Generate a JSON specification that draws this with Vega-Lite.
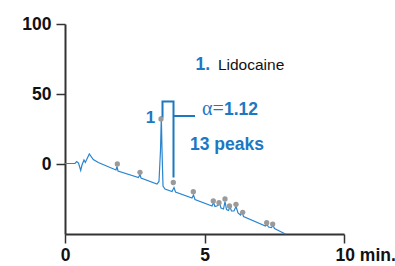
{
  "$schema": "https://vega.github.io/schema/vega-lite/v6.json",
  "width": 279,
  "height": 210,
  "autosize": {"type": "none"},
  "padding": {"left": 65, "top": 24, "right": 51, "bottom": 32},
  "background": "#ffffff",
  "config": {
    "view": {"stroke": null},
    "axis": {
      "grid": false,
      "domainColor": "#333333",
      "domainWidth": 2,
      "tickColor": "#333333",
      "tickWidth": 1.5,
      "tickSize": 9,
      "labelFont": "Liberation Sans",
      "labelFontWeight": "bold",
      "labelFontSize": 17.5,
      "labelColor": "#111111",
      "title": null
    }
  },
  "layer": [
    {
      "data": {"values": [
        {"t": 0, "v": 0.36}, {"t": 0.358, "v": 0.5}, {"t": 0.419, "v": 1.79}, {"t": 0.484, "v": 0.71},
        {"t": 0.563, "v": -4.64}, {"t": 0.609, "v": -0.71}, {"t": 0.681, "v": 2.86}, {"t": 0.728, "v": 1.07},
        {"t": 0.871, "v": 7.14}, {"t": 1.014, "v": 3.21}, {"t": 1.194, "v": 1.07}, {"t": 1.828, "v": -4.29},
        {"t": 1.864, "v": -1.79}, {"t": 1.9, "v": -5.0}, {"t": 2.634, "v": -9.64}, {"t": 2.688, "v": -7.5},
        {"t": 2.724, "v": -10.0}, {"t": 3.297, "v": -14.29}, {"t": 3.369, "v": -12.5}, {"t": 3.423, "v": 10.0},
        {"t": 3.452, "v": 34.29}, {"t": 3.477, "v": 10.0}, {"t": 3.513, "v": -15.71}, {"t": 3.584, "v": -17.86},
        {"t": 3.835, "v": -19.64}, {"t": 3.907, "v": -16.79}, {"t": 3.961, "v": -20.0}, {"t": 4.552, "v": -24.29},
        {"t": 4.606, "v": -22.14}, {"t": 4.659, "v": -25.36}, {"t": 5.269, "v": -30.0}, {"t": 5.323, "v": -27.5},
        {"t": 5.376, "v": -30.36}, {"t": 5.484, "v": -29.64}, {"t": 5.538, "v": -27.86}, {"t": 5.591, "v": -31.43},
        {"t": 5.681, "v": -32.14}, {"t": 5.735, "v": -26.79}, {"t": 5.789, "v": -32.5}, {"t": 5.86, "v": -33.21},
        {"t": 5.914, "v": -30.71}, {"t": 5.968, "v": -33.57}, {"t": 6.057, "v": -33.57}, {"t": 6.129, "v": -30.36},
        {"t": 6.201, "v": -35.0}, {"t": 6.29, "v": -36.43}, {"t": 6.344, "v": -33.93}, {"t": 6.398, "v": -37.5},
        {"t": 7.186, "v": -44.29}, {"t": 7.24, "v": -43.21}, {"t": 7.294, "v": -45.0}, {"t": 7.401, "v": -45.36},
        {"t": 7.455, "v": -43.93}, {"t": 7.509, "v": -46.07}, {"t": 7.9, "v": -50.0}
      ]},
      "mark": {"type": "line", "color": "#2a85cf", "strokeWidth": 1.2},
      "encoding": {
        "x": {"field": "t", "type": "quantitative", "scale": {"domain": [0, 10], "nice": false, "zero": false},
          "axis": {"values": [0, 5, 10], "labelPadding": 3,
            "labelExpr": "datum.value == 10 ? '10 min.' : datum.label",
            "labelAlign": {"expr": "datum.value == 10 ? 'left' : 'center'"},
            "labelOffset": {"expr": "datum.value == 10 ? -9 : 0"}}},
        "y": {"field": "v", "type": "quantitative", "scale": {"domain": [-50, 100], "nice": false, "zero": false},
          "axis": {"values": [0, 50, 100], "tickSize": 9, "labelPadding": 5}},
        "order": {"field": "t", "type": "quantitative"}
      }
    },
    {
      "data": {"values": [
        {"seg": "a", "k": 1, "t": 3.495, "v": 33.0},
        {"seg": "a", "k": 2, "t": 3.495, "v": 44.6},
        {"seg": "a", "k": 3, "t": 3.889, "v": 44.6},
        {"seg": "a", "k": 4, "t": 3.889, "v": -9.6},
        {"seg": "b", "k": 1, "t": 3.889, "v": 34.3},
        {"seg": "b", "k": 2, "t": 4.66, "v": 34.3}
      ]},
      "mark": {"type": "line", "color": "#1b78c2", "strokeWidth": 2, "strokeCap": "butt", "strokeJoin": "miter"},
      "encoding": {
        "x": {"field": "t", "type": "quantitative"},
        "y": {"field": "v", "type": "quantitative"},
        "detail": {"field": "seg"},
        "order": {"field": "k", "type": "quantitative"}
      }
    },
    {
      "data": {"values": [
        {"t": 1.875, "v": 0}, {"t": 2.688, "v": -5.93}, {"t": 3.441, "v": 32.14}, {"t": 3.882, "v": -13.2},
        {"t": 4.599, "v": -19.8}, {"t": 5.315, "v": -26.4}, {"t": 5.52, "v": -27.6}, {"t": 5.735, "v": -25.0},
        {"t": 5.896, "v": -30.0}, {"t": 6.129, "v": -28.8}, {"t": 6.369, "v": -34.5}, {"t": 7.229, "v": -41.9},
        {"t": 7.444, "v": -42.9}
      ]},
      "mark": {"type": "circle", "color": "#9a9a9a", "opacity": 1, "size": 28},
      "encoding": {
        "x": {"field": "t", "type": "quantitative"},
        "y": {"field": "v", "type": "quantitative"}
      }
    },
    {
      "data": {"values": [
        {"t": 4.68, "v": 67.5, "label": "1."},
        {"t": 5.70, "v": 35.0, "label": "1.12"},
        {"t": 4.48, "v": 10.0, "label": "13 peaks"}
      ]},
      "mark": {"type": "text", "align": "left", "baseline": "alphabetic", "font": "Liberation Sans", "fontWeight": "bold", "fontSize": 17.5, "color": "#1b78c2"},
      "encoding": {
        "x": {"field": "t", "type": "quantitative"},
        "y": {"field": "v", "type": "quantitative"},
        "text": {"field": "label"}
      }
    },
    {
      "data": {"values": [{"t": 3.23, "v": 29.3, "label": "1"}]},
      "mark": {"type": "text", "align": "right", "baseline": "alphabetic", "font": "Liberation Sans", "fontWeight": "bold", "fontSize": 17, "color": "#1b78c2"},
      "encoding": {
        "x": {"field": "t", "type": "quantitative"},
        "y": {"field": "v", "type": "quantitative"},
        "text": {"field": "label"}
      }
    },
    {
      "data": {"values": [{"t": 5.48, "v": 67.5, "label": "Lidocaine"}]},
      "mark": {"type": "text", "align": "left", "baseline": "alphabetic", "font": "Liberation Sans", "fontSize": 15.5, "color": "#111111"},
      "encoding": {
        "x": {"field": "t", "type": "quantitative"},
        "y": {"field": "v", "type": "quantitative"},
        "text": {"field": "label"}
      }
    },
    {
      "data": {"values": [{"t": 5.69, "v": 35.0, "label": "α="}]},
      "mark": {"type": "text", "align": "right", "baseline": "alphabetic", "font": "Liberation Serif", "fontSize": 20, "color": "#1b78c2"},
      "encoding": {
        "x": {"field": "t", "type": "quantitative"},
        "y": {"field": "v", "type": "quantitative"},
        "text": {"field": "label"}
      }
    }
  ]
}
